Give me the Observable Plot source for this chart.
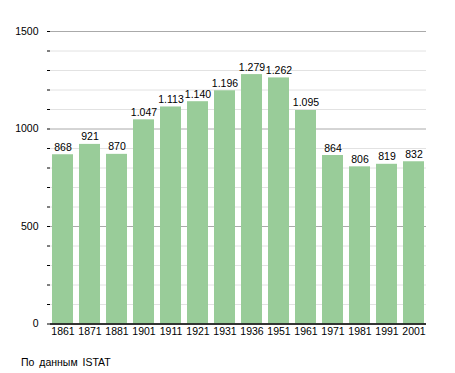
<!DOCTYPE html>
<html>
<head>
<meta charset="utf-8">
<script src="https://cdn.jsdelivr.net/npm/d3@7"></script>
<script src="https://cdn.jsdelivr.net/npm/@observablehq/plot@0.6"></script>
<style>
  body { margin: 0; background: #fff; font-family: "Liberation Sans", Arial, sans-serif; }
  #chart svg { display: block; }
  #caption { font-size: 10.5px; line-height: 12px; color: #000; padding-left: 21px; margin-top: 11px; word-spacing: 2px; }
</style>
</head>
<body>
<div id="chart"></div>
<div id="caption">По данным ISTAT</div>
<script>
const years = ["1861","1871","1881","1901","1911","1921","1931","1936","1951","1961","1971","1981","1991","2001"];
const population = [868, 921, 870, 1047, 1113, 1140, 1196, 1279, 1262, 1095, 864, 806, 819, 832];
const majorTicks = [0, 500, 1000, 1500];
const minorTicks = [100, 200, 300, 400, 600, 700, 800, 900, 1100, 1200, 1300, 1400];
const allTicks = [0,100,200,300,400,500,600,700,800,900,1000,1100,1200,1300,1400,1500];

const data = years.map((y, i) => ({year: y, value: population[i]}));
const fmt = d3.formatLocale({decimal: ",", thousands: ".", grouping: [3], currency: ["", ""]}).format(",d");

const chart = Plot.plot({
  width: 455,
  height: 345,
  marginTop: 31,
  marginLeft: 50,
  marginRight: 29,
  marginBottom: 21.5,
  style: {fontFamily: "Liberation Sans, Arial, sans-serif", fontSize: "10.5px", color: "#000", background: "#fff"},
  x: {domain: years, paddingInner: 0.24, paddingOuter: 0, label: null},
  y: {domain: [0, 1500], label: null},
  marks: [
    Plot.gridY(minorTicks, {stroke: "#e2e2e2", strokeOpacity: 1}),
    Plot.gridY(majorTicks, {stroke: "#aaaaaa", strokeOpacity: 1}),
    Plot.barY(data, {x: "year", y: "value", fill: "#99cc99"}),
    Plot.text(data, {x: "year", y: "value", text: d => fmt(d.value), lineAnchor: "bottom", dy: -4, fill: "#000", fontSize: 10.5}),
    Plot.ruleY([0], {stroke: "#000", strokeWidth: 1.5}),
    Plot.axisY(allTicks, {tickSize: 3, text: null, line: true, stroke: "#000", label: null}),
    Plot.axisY(majorTicks, {tickSize: 0, tickPadding: 12, tickFormat: d => String(d), fill: "#000", fontSize: 10.5, label: null}),
    Plot.axisX({tickSize: 0, tickPadding: 4, fill: "#000", fontSize: 10.5, label: null})
  ]
});
document.getElementById("chart").appendChild(chart);
</script>
</body>
</html>
